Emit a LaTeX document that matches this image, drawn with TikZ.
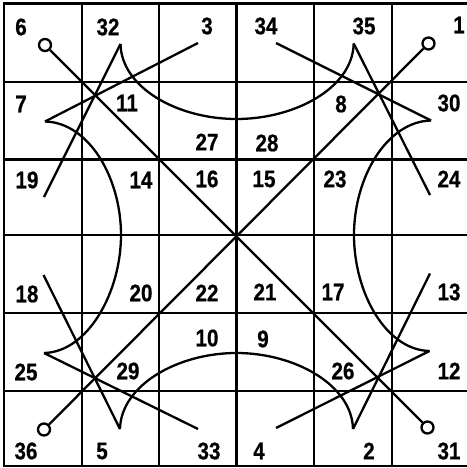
\documentclass[tikz,border=0pt]{standalone}
\usepackage{fontspec}
\newfontfamily\labfont{Liberation Sans}[FakeStretch=0.86,FakeBold=0.6]
\begin{document}
\begin{tikzpicture}[x=1pt,y=-1pt,line width=2.3pt,
  lab/.style={font=\labfont\bfseries\fontsize{24}{24}\selectfont,inner sep=0pt,anchor=center},
  ring/.style={circle,draw,line width=2.3pt,minimum size=12pt,inner sep=0pt},
  gridline/.style={line width=2.3pt,line cap=rect},
  curve/.style={line width=2.3pt}]
\useasboundingbox (0,0) rectangle (466,468);
% grid
\foreach \y in {3.5,82,159.5,235,313,391,466} \draw[gridline] (4,\y) -- (466,\y);
\foreach \x in {4,82,159,236.5,314,392} \draw[gridline] (\x,3.5) -- (\x,466);
% labels
\node[lab] (n6)  at (21,27) {6};
\node[lab] (n32) at (108,27) {32};
\node[lab] (n3)  at (207,26) {3};
\node[lab] (n34) at (266,26) {34};
\node[lab] (n35) at (364,26) {35};
\node[lab] (n1)  at (459,25) {1};
\node[lab] (n7)  at (21,104) {7};
\node[lab] (n11) at (127,103) {11};
\node[lab] (n8)  at (341,104) {8};
\node[lab] (n30) at (449,103) {30};
\node[lab] (n27) at (207,142) {27};
\node[lab] (n28) at (267,143) {28};
\node[lab] (n19) at (27,180) {19};
\node[lab] (n14) at (141,180) {14};
\node[lab] (n16) at (207,179) {16};
\node[lab] (n15) at (264,179) {15};
\node[lab] (n23) at (335,179) {23};
\node[lab] (n24) at (449,179) {24};
\node[lab] (n18) at (27,294) {18};
\node[lab] (n20) at (141,293) {20};
\node[lab] (n22) at (207,293) {22};
\node[lab] (n21) at (265,292) {21};
\node[lab] (n17) at (333,292) {17};
\node[lab] (n13) at (449,292) {13};
\node[lab] (n10) at (207,338) {10};
\node[lab] (n9)  at (263,339) {9};
\node[lab] (n25) at (26,372) {25};
\node[lab] (n29) at (128,371) {29};
\node[lab] (n26) at (343,371) {26};
\node[lab] (n12) at (449,371) {12};
\node[lab] (n36) at (26,451) {36};
\node[lab] (n5)  at (102,451) {5};
\node[lab] (n33) at (209,451) {33};
\node[lab] (n4)  at (259,451) {4};
\node[lab] (n2)  at (369,451) {2};
\node[lab] (n31) at (449,451) {31};
% rings and diagonals
\node[ring] (rTL) at (45,45) {};
\node[ring] (rTR) at (428.5,43.5) {};
\node[ring] (rBL) at (44,429.5) {};
\node[ring] (rBR) at (427.5,427.5) {};
\draw (rTL) -- (rBR);
\draw (rBL) -- (rTR);
% cusps
\coordinate (tL) at (120.5,44);
\coordinate (tR) at (353.7,43.5);
\coordinate (tM) at (236.5,119);
\coordinate (rT) at (431,120.5);
\coordinate (rB) at (429.5,351);
\coordinate (rM) at (354,235);
\coordinate (bL) at (120,429);
\coordinate (bR) at (353,429);
\coordinate (bM) at (236.5,353);
\coordinate (lT) at (45,121.5);
\coordinate (lB) at (44,353);
\coordinate (lM) at (121,235);
% free line ends
\coordinate (e3) at (198,43);
\coordinate (e19) at (44,197);
\coordinate (e34) at (276,43);
\coordinate (e24) at (430,195);
\coordinate (e18) at (43.5,275);
\coordinate (e33) at (198,429);
\coordinate (e4) at (276,428);
\coordinate (e13) at (430,273.5);
% arcs
\draw[curve] (tL) .. controls (121.5,88) and (178,119) .. (tM) .. controls (295,119) and (352.7,88) .. (tR);
\draw[curve] (rT) .. controls (387,121.5) and (354,177) .. (rM) .. controls (354,293) and (386,350) .. (rB);
\draw[curve] (bL) .. controls (121,385) and (178,353) .. (bM) .. controls (295,353) and (352,385) .. (bR);
\draw[curve] (lT) .. controls (89,122.5) and (121,178) .. (lM) .. controls (121,292) and (88,352) .. (lB);
% straight strokes
\draw (e3) -- (lT);
\draw (tL) -- (e19);
\draw (e34) -- (rT);
\draw (tR) -- (e24);
\draw (e18) -- (bL);
\draw (lB) -- (e33);
\draw (e4) -- (rB);
\draw (e13) -- (bR);
\end{tikzpicture}
\end{document}
